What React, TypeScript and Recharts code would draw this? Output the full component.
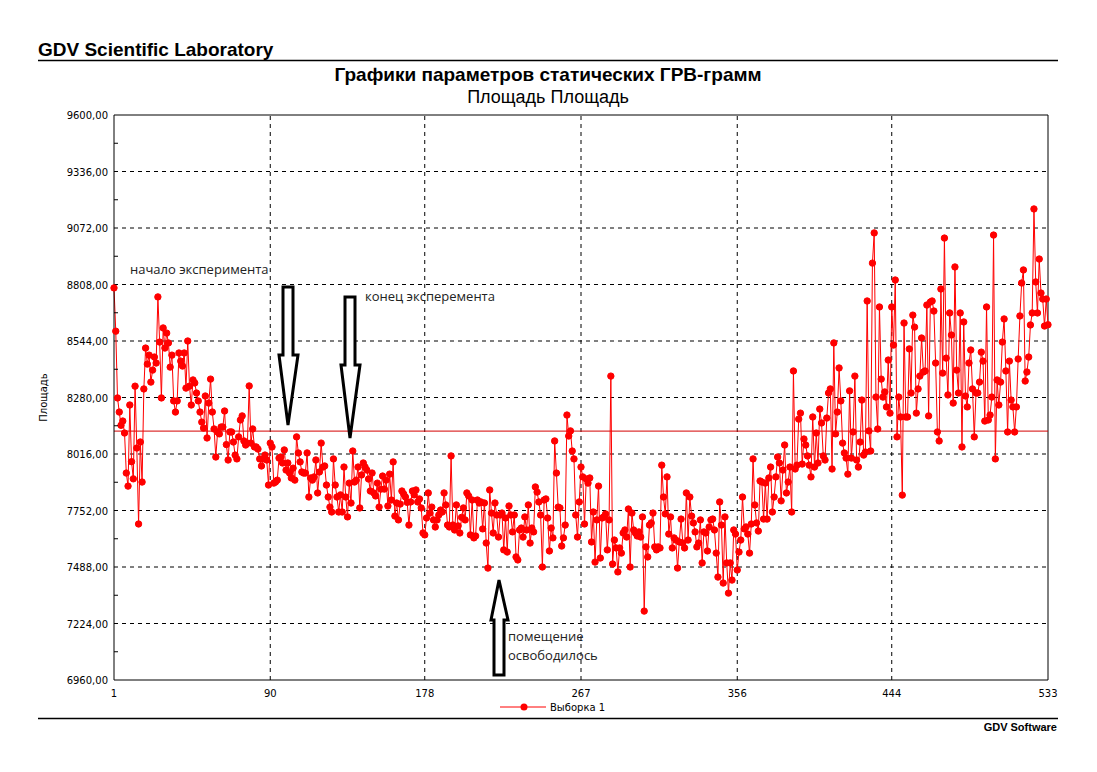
import React from 'react';
import { LineChart, Line, XAxis, YAxis, ReferenceLine } from 'recharts';

const xTicks = [1, 90, 178, 267, 356, 444, 533];
const yMajorTicks = [6960, 7224, 7488, 7752, 8016, 8280, 8544, 8808, 9072, 9336, 9600];
const yMinorTicks = [7092, 7356, 7620, 7884, 8148, 8412, 8676, 8940, 9204, 9468];
const meanLevel = 8123;
const seriesName = 'Выборка 1';
const yAxisTitle = 'Площадь';

const seg1 = [
  8792, 8590, 8278, 8212, 8150, 8170, 8114, 7927, 7866, 8245,
  7980, 7900, 8333, 8044, 7689, 8072, 7885, 8320, 8511, 8436,
  8478, 8352, 8408, 8469, 8441, 8750, 8539, 8278, 8605, 8511,
  8581, 8535, 8422, 8478, 8264, 8212, 8264, 8488, 8450, 8427,
  8488, 8324, 8544, 8333, 8245, 8362, 8348, 8301, 8264, 8212,
  8165, 8137, 8287, 8091, 8254, 8366, 8212, 8133, 8002, 8119,
  8110, 8142, 8142, 8217, 8060, 7988, 8119,
];
const seg2 = [
  8119, 8072, 8011, 7993, 8096, 8175, 8194, 8077, 8058, 8067,
  8334, 8067, 8133, 8049, 8049, 8039, 7993, 7960, 7993, 8011,
  7988, 7871, 8067, 8049, 7880, 7885, 7894, 7997, 8002, 7974,
  8035, 7941, 7974, 7927, 7904, 7950, 7894, 8096, 8021, 7979,
  7932, 7927, 7927, 8021, 7815, 7904, 7894, 7909, 7988, 7834,
  7932, 8067, 7955, 7960, 7871, 7815, 7768, 7745, 7993, 7871,
  7815, 7745, 7825, 7745, 7955, 7815, 7722, 7880, 7787, 8030,
];
const seg3 = [
  7885, 7894, 7955, 7764, 7918, 7974, 7955, 7941, 7899, 7843,
  7927, 7834, 7820, 7880, 7768, 7852, 7913, 7852, 7894, 7773,
  7922, 7801, 7979, 7726, 7787, 7708, 7782, 7843, 7829, 7815,
  7790, 7684, 7792, 7843, 7825, 7848, 7792, 7806, 7764, 7647,
  7638, 7717, 7834, 7740, 7768, 7708, 7675, 7708, 7731, 7754,
  7745, 7834, 7778, 7684, 7675, 8007, 7684, 7661, 7778, 7680,
  7647, 7720, 7764, 7708, 7834, 7820, 7638, 7801, 7624,
];
const seg4 = [
  7633, 7801, 7787, 7792, 7666, 7787, 7600, 7483, 7848, 7740,
  7647, 7787, 7731, 7628, 7731, 7740, 7568, 7717, 7558, 7773,
  7731, 7652, 7731, 7535, 7521, 7661, 7670, 7628, 7722, 7661,
  7778, 7600, 7670, 7652, 7862, 7838, 7792, 7731, 7488, 7801,
  7806, 7717, 7563, 7670, 7624, 8077, 7927, 7768, 7764, 7586,
  7624, 7684, 8198, 8100, 8124, 8030, 7993, 7731, 7628, 7792,
  7955, 7909, 7689, 7899, 7880, 7904, 7605, 7745, 7511,
];
const seg5 = [
  7708, 7866, 7530, 7717, 7722, 7736, 7568, 7708, 8380, 7502,
  7614, 7577, 7465, 7577, 7553, 7647, 7661, 7628, 7759, 7488,
  7740, 7661, 7647, 7633, 7652, 7628, 7722, 7282, 7582, 7535,
  7684, 7694, 7740, 7582, 7568, 7582, 7577, 7964, 7815, 7736,
  7909, 7642, 7722, 7577, 7624, 7614, 7483, 7605, 7712, 7600,
  7577, 7834, 7614, 7815, 7726, 7694, 7652, 7582, 7600, 7708,
  7507, 7652, 7647, 7563, 7675, 7708,
];
const seg6 = [
  7712, 7661, 7553, 7441, 7792, 7684, 7413, 7722, 7507, 7366,
  7507, 7427, 7661, 7642, 7474, 7558, 7614, 7815, 7666, 7675,
  7642, 7553, 7689, 7993, 7778, 7694, 7656, 7890, 7885, 7712,
  7880, 7712, 7904, 7955, 7745, 7815, 7909, 8002, 7974, 7797,
  7941, 8058, 7834, 7885, 7955, 7745, 8404, 7946, 7964, 8179,
  8207, 7969, 8086, 8058, 8007, 7964, 7909, 8189, 7955, 8114,
  7974, 8226, 8161, 8007, 7988, 8184, 8301, 8320, 7946, 8535,
];
const seg7 = [
  8110, 8212, 8418, 8264, 8067, 8021, 7997, 7922, 8311, 7997,
  8119, 8380, 7988, 7955, 8072, 8268, 8011, 8025, 8731, 8124,
  8030, 8908, 9049, 8282, 8133, 8703, 8366, 8282, 8306, 8236,
  8455, 8207, 8703, 8525, 8829, 8096, 8282, 8189, 7824, 8628,
  8189, 8189, 8507, 8301, 8665, 8609, 8207, 8320, 8380, 8558,
  8399, 8404, 8712, 8194, 8726, 8731, 8684, 8441, 8119, 8077,
  8787, 8394, 9025, 8464, 8292, 8675, 8572, 8254, 8890,
];
const seg8 = [
  8408, 8301, 8675, 8049, 8633, 8287, 8236, 8441, 8502, 8320,
  8096, 8301, 8301, 8352, 8492, 8450, 8170, 8703, 8175, 8198,
  8282, 9039, 7993, 8362, 8245, 8352, 8539, 8647, 8404, 8119,
  8450, 8268, 8236, 8119, 8236, 8460, 8661, 8815, 8876, 8357,
  8399, 8469, 8619, 8675, 9161, 8820, 8675, 8927, 8768, 8740,
  8614, 8740, 8620,
];

const values = [...seg1, ...seg2, ...seg3, ...seg4, ...seg5, ...seg6, ...seg7, ...seg8];
const data = values.map((v, i) => ({ n: i + 1, v }));

const W = 1097;
const H = 772;
const MARGIN = { top: 115, right: 49, bottom: 72, left: 40 };
const Y_AXIS_W = 74;
const PLOT_LEFT = MARGIN.left + Y_AXIS_W;

const fmt = (v: number) => v.toFixed(2).replace('.', ',');
const AXIS_FONT = 'DejaVu Sans, Verdana, sans-serif';
const HEAD_FONT = 'Liberation Sans, Arial, sans-serif';

const YTick = (props: any) => {
  const { y, payload } = props;
  if (yMinorTicks.includes(payload.value)) {
    return <line x1={PLOT_LEFT} x2={PLOT_LEFT + 4} y1={y} y2={y} stroke="#000" strokeWidth={1} />;
  }
  return (
    <text x={PLOT_LEFT - 6} y={y} dy={4} textAnchor="end" fontSize={10} fontFamily={AXIS_FONT} fill="#000">
      {fmt(payload.value)}
    </text>
  );
};

const allYTicks = [...yMajorTicks, ...yMinorTicks].sort((a, b) => a - b);

const arrowStyle = { fill: '#fff', stroke: '#000', strokeWidth: 3, strokeLinejoin: 'miter' as const };

export default function App() {
  return (
    <div style={{ position: 'absolute', left: 0, top: 0, width: W, height: H, background: '#fff' }}>
      <LineChart width={W} height={H} data={data} margin={MARGIN}>
        <XAxis
          dataKey="n"
          type="number"
          domain={[1, 533]}
          ticks={xTicks}
          interval={0}
          height={20}
          axisLine={{ stroke: '#000' }}
          tickLine={false}
          tickMargin={4}
          tick={{ fontSize: 10, fontFamily: AXIS_FONT, fill: '#000' }}
        />
        <YAxis
          type="number"
          domain={[6960, 9600]}
          ticks={allYTicks}
          interval={0}
          width={Y_AXIS_W}
          axisLine={{ stroke: '#000' }}
          tickLine={false}
          tick={<YTick />}
          label={{ value: yAxisTitle, angle: -90, position: 'insideLeft', offset: 3, style: { fontSize: 10, fontFamily: AXIS_FONT, fill: '#000', textAnchor: 'middle' } }}
        />
        {yMajorTicks.slice(1, -1).map((t) => (
          <ReferenceLine key={'h' + t} y={t} stroke="#000" strokeDasharray="4 4" strokeWidth={1} />
        ))}
        {xTicks.slice(1, -1).map((t) => (
          <ReferenceLine key={'v' + t} x={t} stroke="#000" strokeDasharray="4 4" strokeWidth={1} />
        ))}
        <ReferenceLine y={9600} stroke="#000" strokeWidth={1} />
        <ReferenceLine x={533} stroke="#000" strokeWidth={1} />
        <ReferenceLine y={meanLevel} stroke="#d40000" strokeWidth={1} />
        <Line
          dataKey="v"
          name={seriesName}
          stroke="#ff0000"
          strokeWidth={1}
          dot={{ r: 3.2, fill: '#ff0000', stroke: '#ff0000', strokeWidth: 1 }}
          isAnimationActive={false}
        />
      </LineChart>
      <svg width={W} height={H} style={{ position: 'absolute', left: 0, top: 0, pointerEvents: 'none' }}>
        <text x={38} y={56} fontSize={19} fontWeight="bold" fontFamily={HEAD_FONT} fill="#000">
          GDV Scientific Laboratory
        </text>
        <line x1={38} x2={1058} y1={60.5} y2={60.5} stroke="#000" strokeWidth={1.5} />
        <text x={548} y={81} textAnchor="middle" fontSize={19} fontWeight="bold" fontFamily={HEAD_FONT} fill="#000">
          Графики параметров статических ГРВ-грамм
        </text>
        <text x={548} y={103} textAnchor="middle" fontSize={18} fontFamily={HEAD_FONT} fill="#000">
          Площадь Площадь
        </text>

        <text x={130} y={274} fontSize={13} fontFamily="Open Sans, sans-serif" fill="#222">начало эксперимента</text>
        <text x={365} y={301} fontSize={13} fontFamily="Open Sans, sans-serif" fill="#222">конец эксперемента</text>
        <text x={508} y={641} fontSize={13} fontFamily="Open Sans, sans-serif" fill="#222">помещение</text>
        <text x={508} y={660} fontSize={13} fontFamily="Open Sans, sans-serif" fill="#222">освободилось</text>

        <polygon points="283,287 293,287 293,355 298,355 288,425 279,355 283,355" style={arrowStyle} />
        <polygon points="345,297 355,297 355,365 360,365 350,438 341,365 345,365" style={arrowStyle} />
        <polygon points="494,675 504,675 504,620 508,620 499,580 491,620 494,620" style={arrowStyle} />

        <line x1={500} x2={546} y1={707} y2={707} stroke="#ff0000" strokeWidth={1} />
        <circle cx={524} cy={707} r={3.5} fill="#ff0000" />
        <text x={550} y={711} fontSize={10} fontFamily={AXIS_FONT} fill="#000">{seriesName}</text>

        <line x1={38} x2={1058} y1={718.5} y2={718.5} stroke="#000" strokeWidth={1.5} />
        <text x={1057} y={731} textAnchor="end" fontSize={11} fontWeight="bold" fontFamily={HEAD_FONT} fill="#000">
          GDV Software
        </text>
      </svg>
    </div>
  );
}
